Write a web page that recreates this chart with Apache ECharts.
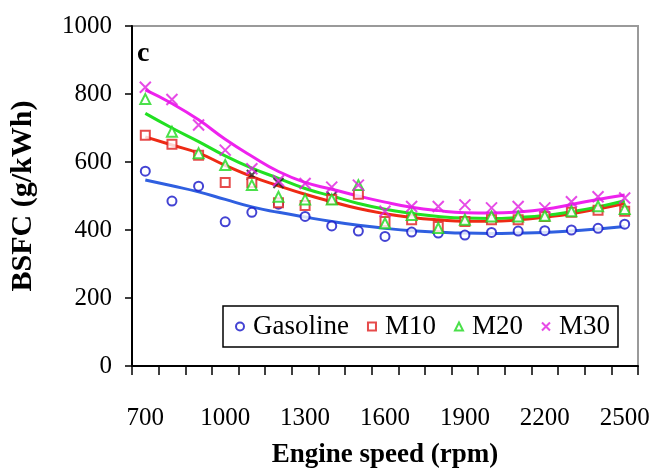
<!DOCTYPE html>
<html>
<head>
<meta charset="utf-8">
<script src="https://cdn.jsdelivr.net/npm/echarts@6/dist/echarts.min.js"></script>
<style>html,body{margin:0;padding:0;background:#fff}#c{width:654px;height:475px}</style>
</head>
<body>
<div id="c"></div>
<script>
// Engine speed categories (rpm)
const speeds = ['700','800','900','1000','1100','1200','1300','1400','1500','1600','1700','1800','1900','2000','2100','2200','2300','2400','2500'];
const yTicks = [0, 200, 400, 600, 800, 1000];

// Measured BSFC points (g/kWh)
const gasoline = [573, 485, 529, 424, 452, 476, 440, 412, 397, 381, 394, 391, 385, 393, 397, 398, 400, 405, 417];
const m10      = [679, 652, 620, 540, 540, 480, 472, 490, 505, 425, 430, 410, 425, 430, 430, 440, 452, 458, 455];
const m20      = [785, 689, 626, 591, 532, 498, 490, 490, 532, 420, 444, 406, 430, 440, 440, 442, 455, 470, 462];
const m30      = [820, 784, 709, 635, 580, 545, 537, 526, 532, 455, 469, 469, 474, 465, 469, 465, 483, 498, 494];
const other    = [null, null, null, null, 562, 538, null, 498, null, null, null, null, null, null, null, null, null, null, null];

// Trend lines (g/kWh)
const gasolineTrend = [547, 530, 512, 490, 468, 452, 438, 425, 414, 405, 398, 394, 391, 390, 391, 393, 397, 403, 410];
const m10Trend      = [674, 650, 626, 590, 557, 530, 505, 483, 463, 448, 437, 430, 426, 426, 430, 438, 448, 462, 478];
const m20Trend      = [743, 700, 660, 618, 582, 552, 522, 500, 478, 461, 449, 440, 435, 434, 437, 443, 454, 468, 486];
const m30Trend      = [812, 772, 724, 667, 617, 572, 540, 520, 500, 482, 467, 457, 451, 450, 453, 461, 475, 490, 503];

const names = ['Gasoline', 'M10', 'M20', 'M30'];
const colors = { pt: ['#1414c8', '#e01e1e', '#1ed81e', '#e01ee0'], ln: ['#2f5fe0', '#ee2a14', '#22e022', '#ee22ee'] };
const X_PATH = 'path://M0,0L10,10M10,0L0,10';
const serif = '"Liberation Serif", "DejaVu Serif", serif';

const chart = echarts.init(document.getElementById('c'), null, { renderer: 'canvas' });

function trend(data, i) {
  return { name: names[i] + ' trend', type: 'line', data: data, smooth: 0.5, showSymbol: false, symbol: 'none',
    lineStyle: { color: colors.ln[i], width: 3 }, z: 2, silent: true };
}
function pts(data, i, symbol, size) {
  const isPath = symbol.indexOf('path://') === 0;
  return { name: names[i], type: 'scatter', data: data, symbol: symbol, symbolSize: size,
    itemStyle: isPath ? { color: 'transparent', borderColor: colors.pt[i], borderWidth: 2 }
                      : { color: colors.pt[i], borderColor: colors.pt[i], borderWidth: 2 }, z: 3 };
}

chart.setOption({
  animation: false,
  backgroundColor: '#fff',
  title: { text: 'c', left: 132, top: 35, textStyle: { fontFamily: serif, fontWeight: 'bold', fontSize: 28, color: '#000' } },
  grid: { left: 120, top: 26, right: 16, bottom: 109, show: true, borderColor: '#9a9a9a', borderWidth: 2, backgroundColor: 'transparent' },
  legend: {
    data: names.map((n, i) => ({ name: n, icon: ['emptyCircle', 'emptyRect', 'emptyTriangle', X_PATH][i] })),
    left: 223, top: 306, itemWidth: 8, itemHeight: 8, itemGap: 18,
    padding: [7, 8, 7, 12], borderColor: '#000', borderWidth: 1.5, backgroundColor: '#fff',
    textStyle: { fontFamily: serif, fontSize: 27, color: '#000', padding: [0, 0, 0, 4] }
  },
  xAxis: {
    type: 'category', data: speeds, boundaryGap: true,
    name: 'Engine speed (rpm)', nameLocation: 'middle', nameGap: 76,
    nameTextStyle: { fontFamily: serif, fontWeight: 'bold', fontSize: 27, color: '#000' },
    axisLine: { show: true, lineStyle: { color: '#000', width: 2 } },
    axisTick: { show: true, interval: 0, inside: false, length: 9, lineStyle: { color: '#000', width: 1.5 } },
    axisLabel: { interval: 2, margin: 40, fontFamily: serif, fontSize: 25, color: '#000' },
    splitLine: { show: false }
  },
  yAxis: {
    type: 'value', min: yTicks[0], max: yTicks[yTicks.length - 1], interval: 200,
    name: 'BSFC (g/kWh)', nameLocation: 'middle', nameGap: 94,
    nameTextStyle: { fontFamily: serif, fontWeight: 'bold', fontSize: 30, color: '#000' },
    axisLine: { show: true, lineStyle: { color: '#000', width: 2 } },
    axisTick: { show: true, inside: false, length: 7, lineStyle: { color: '#000', width: 1.5 } },
    axisLabel: { margin: 20, fontFamily: serif, fontSize: 25, color: '#000', formatter: v => String(v) },
    splitLine: { show: false }
  },
  series: [
    trend(gasolineTrend, 0), trend(m10Trend, 1), trend(m20Trend, 2), trend(m30Trend, 3),
    pts(gasoline, 0, 'emptyCircle', 9),
    pts(m10, 1, 'emptyRect', 9),
    pts(m20, 2, 'emptyTriangle', 10),
    pts(m30, 3, X_PATH, 11),
    { name: 'other', type: 'scatter', data: other, symbol: X_PATH, symbolSize: 10,
      itemStyle: { color: 'transparent', borderColor: '#222', borderWidth: 2 }, z: 2 }
  ]
});
</script>
</body>
</html>
